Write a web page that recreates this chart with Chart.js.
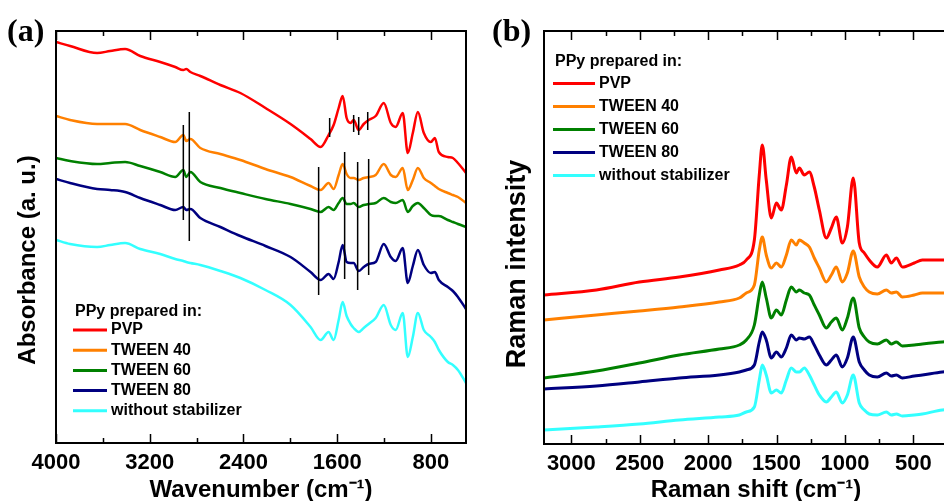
<!DOCTYPE html>
<html>
<head>
<meta charset="utf-8">
<script src="https://cdn.jsdelivr.net/npm/chart.js@4.4.1/dist/chart.umd.min.js"></script>
<style>
  html, body { margin: 0; padding: 0; background: #fff; overflow: hidden; }
  #wrap { position: relative; width: 944px; height: 501px; overflow: hidden; background: #fff; }
  #wrap canvas { position: absolute; top: 0; }
  #ftirChart { left: 0; }
  #ramanChart { left: 478px; }
  .panel { position: absolute; font: bold 32px 'Liberation Serif', 'Times New Roman', serif; color: #000; line-height: 1; }
</style>
</head>
<body>
<div id="wrap">
  <canvas id="ftirChart" width="478" height="501"></canvas>
  <canvas id="ramanChart" width="502" height="501"></canvas>
  <div class="panel" style="left:7px; top:14px;">(a)</div>
  <div class="panel" style="left:492px; top:14px;">(b)</div>
</div>
<script>
// Series shared by both panels
const seriesLabels = ['PVP', 'TWEEN 40', 'TWEEN 60', 'TWEEN 80', 'without stabilizer'];
const seriesColors = ['#ff0000', '#ff8000', '#008000', '#000080', '#33ffff'];

// (a) FTIR spectra, absorbance in arbitrary units (stacked)
const ftirWavenumber = [4000, 3880, 3649, 3538, 3410, 3281, 3110, 2982, 2913, 2888, 2853, 2768, 2597, 2426, 2212, 1998, 1827, 1741, 1673, 1630,
  1587, 1553, 1519, 1485, 1459, 1416, 1373, 1331, 1271, 1202, 1142, 1100, 1040, 997, 954, 911, 860, 800, 766, 732, 655, 612, 569, 500];
const ftirPVP = [401, 397, 390, 392, 394, 387, 381, 376, 373, 374, 371, 367, 358, 350, 335, 319, 304, 296, 308, 318,
  335, 347, 325, 320, 323, 313, 319, 323, 327, 340, 320, 316, 330, 290, 310, 331, 310, 301, 305, 291, 286, 285, 280, 270];
const ftirTween40 = [327, 323, 319, 319, 319, 313, 306, 301, 308, 302, 304, 295, 289, 283, 274, 266, 257, 253, 260, 254,
  268, 279, 269, 265, 265, 263, 265, 266, 268, 279, 268, 266, 275, 253, 263, 275, 265, 260, 257, 254, 250, 248, 246, 240];
const ftirTween60 = [285, 282, 279, 280, 281, 277, 271, 266, 273, 266, 271, 261, 255, 250, 244, 239, 234, 231, 236, 233,
  240, 245, 239, 239, 240, 236, 238, 239, 240, 245, 241, 240, 243, 231, 237, 240, 235, 228, 227, 227, 223, 221, 219, 216];
const ftirTween80 = [264, 260, 254, 253, 251, 245, 238, 233, 236, 233, 234, 225, 216, 207, 197, 186, 171, 163, 169, 164,
  181, 198, 181, 180, 180, 172, 176, 179, 181, 199, 186, 182, 195, 160, 177, 193, 178, 170, 171, 163, 156, 152, 146, 134];
const ftirNone = [203, 199, 196, 198, 200, 194, 189, 184, 182, 181, 180, 178, 172, 165, 153, 138, 116, 103, 111, 103,
  123, 141, 127, 119, 115, 111, 115, 119, 125, 138, 118, 113, 130, 86, 106, 130, 113, 106, 101, 93, 81, 78, 73, 60];
const ftirMajorTicks = [4000, 3200, 2400, 1600, 800];
const ftirMinorTicks = [3600, 2800, 2000, 1200];
// black band markers: position, lower and upper end
const ftirMarkerWn = [2913, 2862, 1758, 1536, 1425, 1331, 1664, 1459, 1416, 1339];
const ftirMarkerLow = [223, 202, 148, 164, 153, 168, 306, 311, 308, 313];
const ftirMarkerHigh = [318, 331, 276, 291, 281, 284, 325, 328, 326, 331];

// (b) Raman spectra, intensity in arbitrary units (stacked)
const ramanShift = [3200, 2817, 2503, 2211, 1918, 1772, 1721, 1662, 1626, 1604, 1575, 1538, 1501, 1465, 1428, 1392, 1355, 1333, 1297, 1260,
  1224, 1187, 1136, 1099, 1063, 1019, 982, 939, 895, 858, 822, 763, 697, 661, 624, 580, 493, 434, 288, 149];
const ramanPVP = [149, 154, 162, 167, 174, 179, 184, 204, 269, 299, 264, 226, 241, 234, 259, 287, 271, 276, 269, 272,
  257, 234, 206, 216, 227, 201, 217, 266, 201, 191, 184, 177, 189, 181, 186, 177, 181, 184, 184, 185];
const ramanTween40 = [124, 129, 133, 137, 142, 146, 151, 159, 194, 207, 189, 176, 181, 177, 189, 204, 199, 204, 201, 197,
  186, 176, 162, 169, 177, 162, 171, 193, 167, 157, 152, 150, 154, 151, 152, 147, 149, 151, 151, 152];
const ramanTween60 = [66, 73, 81, 89, 95, 99, 104, 119, 149, 162, 146, 126, 134, 129, 144, 157, 152, 154, 151, 149,
  139, 129, 116, 122, 126, 114, 126, 146, 116, 107, 102, 100, 104, 100, 102, 98, 99, 100, 102, 103];
const ramanTween80 = [55, 58, 62, 66, 69, 72, 74, 79, 102, 112, 104, 86, 92, 87, 96, 109, 104, 106, 105, 107,
  99, 89, 79, 84, 89, 77, 86, 107, 82, 74, 69, 67, 71, 68, 69, 66, 68, 69, 72, 73];
const ramanNone = [14, 17, 20, 24, 27, 29, 32, 37, 64, 79, 69, 51, 54, 51, 64, 76, 72, 72, 76, 69,
  59, 49, 42, 47, 52, 41, 49, 69, 41, 34, 30, 29, 32, 29, 30, 28, 29, 30, 34, 35];
const ramanMajorTicks = [3000, 2500, 2000, 1500, 1000, 500];
const ramanMinorTicks = [2750, 2250, 1750, 1250, 750, 250];

const FONT = "'Liberation Sans', Arial, sans-serif";

// frame with inward ticks, rotated y title and the boxed legend
const frameLegend = {
  id: 'frameLegend',
  afterDraw(chart, args, opts) {
    const ctx = chart.ctx;
    const a = chart.chartArea;
    const xs = chart.scales.x;
    ctx.save();
    ctx.strokeStyle = '#000';
    ctx.lineWidth = 2;
    ctx.strokeRect(a.left, a.top, a.right - a.left, a.bottom - a.top);

    ctx.lineWidth = 1.5;
    const tick = (v, len) => {
      if (v < xs.min || v > xs.max) return;
      const px = Math.round(xs.getPixelForValue(v)) + 0.5;
      ctx.beginPath();
      ctx.moveTo(px, a.bottom);
      ctx.lineTo(px, a.bottom - len);
      ctx.moveTo(px, a.top);
      ctx.lineTo(px, a.top + len);
      ctx.stroke();
    };
    opts.major.forEach(v => tick(v, 9));
    opts.minor.forEach(v => tick(v, 5));

    // y axis title
    ctx.fillStyle = '#000';
    ctx.save();
    ctx.translate(opts.yTitleX, opts.yTitleY);
    ctx.rotate(-Math.PI / 2);
    ctx.font = 'bold ' + opts.yTitleSize + 'px ' + FONT;
    ctx.textAlign = 'center';
    ctx.textBaseline = 'middle';
    ctx.fillText(opts.yTitle, 0, 0);
    ctx.restore();

    // legend
    ctx.font = 'bold 16px ' + FONT;
    ctx.textAlign = 'left';
    ctx.textBaseline = 'middle';
    ctx.fillText('PPy prepared in:', opts.lx + 2, opts.ly);
    chart.data.datasets.filter(d => !d.isMarker).forEach((d, i) => {
      const y = opts.ly + opts.first + i * opts.gap;
      ctx.strokeStyle = d.borderColor;
      ctx.lineWidth = 3;
      ctx.beginPath();
      ctx.moveTo(opts.lx, y);
      ctx.lineTo(opts.lx + opts.len, y);
      ctx.stroke();
      ctx.fillText(d.label, opts.lx + opts.len + 4, y);
    });
    ctx.restore();
  }
};

function spectrum(xs, ys, i, width) {
  return {
    label: seriesLabels[i],
    data: xs.map((x, k) => ({ x: x, y: ys[k] })),
    borderColor: seriesColors[i],
    borderWidth: width,
    pointRadius: 0,
    fill: false,
    cubicInterpolationMode: 'monotone'
  };
}

function xAxis(min, max, major, title, height) {
  return {
    type: 'linear',
    reverse: true,
    min: min,
    max: max,
    afterBuildTicks(s) { s.ticks = major.map(v => ({ value: v })); },
    ticks: {
      autoSkip: false,
      maxRotation: 0,
      color: '#000',
      padding: -1,
      font: { family: FONT, size: 22, weight: 'bold' },
      callback: v => String(v)
    },
    grid: { display: false },
    border: { display: false },
    title: {
      display: true,
      text: title,
      color: '#000',
      padding: { top: 0, bottom: -4 },
      font: { family: FONT, size: 24, weight: 'bold' }
    },
    afterFit(s) { s.height = height; }
  };
}

// (a)
const ftirSets = [ftirPVP, ftirTween40, ftirTween60, ftirTween80, ftirNone]
  .map((ys, i) => spectrum(ftirWavenumber, ys, i, 2.5));
ftirMarkerWn.forEach((wn, i) => {
  ftirSets.push({
    isMarker: true,
    data: [{ x: wn, y: ftirMarkerLow[i] }, { x: wn, y: ftirMarkerHigh[i] }],
    borderColor: '#000',
    borderWidth: 1.5,
    pointRadius: 0,
    order: -1
  });
});

new Chart(document.getElementById('ftirChart'), {
  type: 'line',
  data: { datasets: ftirSets },
  plugins: [frameLegend],
  options: {
    responsive: false,
    animation: false,
    events: [],
    layout: { padding: { left: 56, right: 12, top: 31, bottom: 0 } },
    scales: {
      x: xAxis(500, 4000, ftirMajorTicks, 'Wavenumber (cm\u207B\u00B9)', 58),
      y: { display: false, min: 0, max: 412 }
    },
    plugins: {
      legend: { display: false },
      tooltip: { enabled: false },
      frameLegend: {
        major: ftirMajorTicks, minor: ftirMinorTicks,
        yTitle: 'Absorbance (a. u.)', yTitleX: 28, yTitleY: 260, yTitleSize: 24,
        lx: 73, ly: 312, first: 18, gap: 20.2, len: 34
      }
    }
  }
});

// (b)
const ramanSets = [ramanPVP, ramanTween40, ramanTween60, ramanTween80, ramanNone]
  .map((ys, i) => spectrum(ramanShift, ys, i, 3));

new Chart(document.getElementById('ramanChart'), {
  type: 'line',
  data: { datasets: ramanSets },
  plugins: [frameLegend],
  options: {
    responsive: false,
    animation: false,
    events: [],
    layout: { padding: { left: 66, right: 12, top: 31, bottom: 0 } },
    scales: {
      x: xAxis(100, 3200, ramanMajorTicks, 'Raman shift (cm\u207B\u00B9)', 57),
      y: { display: false, min: 0, max: 413 }
    },
    plugins: {
      legend: { display: false },
      tooltip: { enabled: false },
      frameLegend: {
        major: ramanMajorTicks, minor: ramanMinorTicks,
        yTitle: 'Raman intensity', yTitleX: 40, yTitleY: 264, yTitleSize: 27,
        lx: 75, ly: 62, first: 21.5, gap: 23, len: 42
      }
    }
  }
});
</script>
</body>
</html>
